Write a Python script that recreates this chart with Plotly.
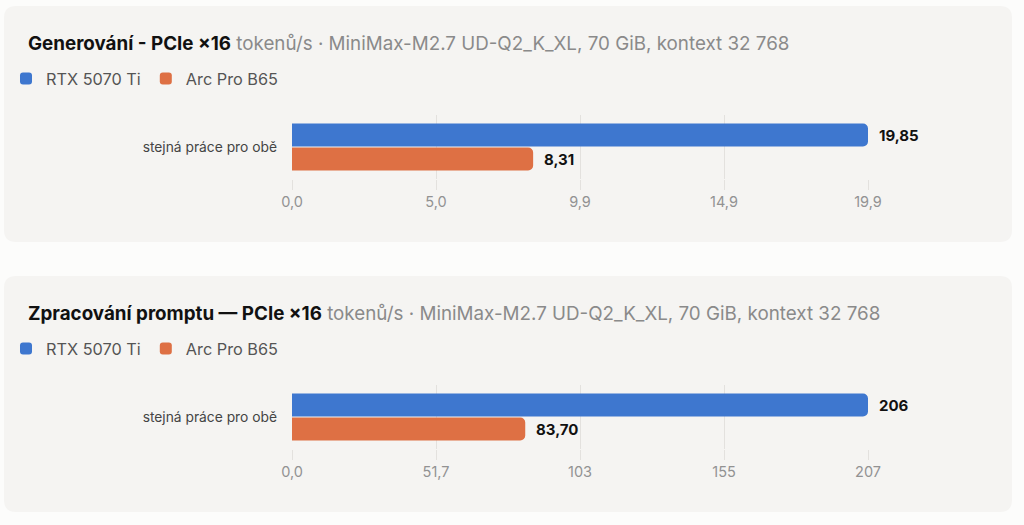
import plotly.graph_objects as go

W, H = 1024, 525

category = ["stejná práce pro obě"]
series = ["RTX 5070 Ti", "Arc Pro B65"]
colors = ["#3e77cf", "#de7044"]

gen_values = [19.85, 8.31]
gen_labels = ["19,85", "8,31"]
gen_ticks = ["0,0", "5,0", "9,9", "14,9", "19,9"]

pp_values = [206.7, 83.70]
pp_labels = ["206", "83,70"]
pp_ticks = ["0,0", "51,7", "103", "155", "207"]

panels = [
    ("Generování - PCIe ×16", gen_values, gen_labels, gen_ticks),
    ("Zpracování promptu — PCIe ×16", pp_values, pp_labels, pp_ticks),
]
subtitle = "tokenů/s · MiniMax-M2.7 UD-Q2_K_XL, 70 GiB, kontext 32 768"


def px(x):
    return x / W


def py(y):
    return 1 - y / H


def card(x0, y0, x1, y1, r=12):
    # rounded rectangle in paper coords
    rx, ry = r / W, r / H
    a, b, c, d = px(x0), py(y1), px(x1), py(y0)
    return (f"M{a+rx},{b} L{c-rx},{b} Q{c},{b} {c},{b+ry} L{c},{d-ry} Q{c},{d} {c-rx},{d} "
            f"L{a+rx},{d} Q{a},{d} {a},{d-ry} L{a},{b+ry} Q{a},{b} {a+rx},{b} Z")


fig = go.Figure()

# card y-extents, plot area y-extents, title y, legend y
cards = [(6, 242), (276, 512)]
plots = [(115, 179), (385, 449)]
title_y = [43, 313]
legend_y = [79, 349]

for i, (title, vals, labels, ticks) in enumerate(panels):
    n = "" if i == 0 else str(i + 1)
    for j, name in enumerate(series):
        fig.add_trace(go.Bar(
            y=category, x=[vals[j]], name=name, orientation="h",
            marker=dict(color=colors[j], cornerradius=5, line=dict(width=0)),
            xaxis="x" + n, yaxis="y" + n, legend="legend" + n,
            hoverinfo="skip",
        ))
        fig.add_annotation(
            x=vals[j], y=category[0], xref="x" + n, yref="y" + n,
            text=f"<b>{labels[j]}</b>", showarrow=False, xanchor="left",
            xshift=9, yshift=12 if j == 0 else -12,
            font=dict(size=15, color="#111", family="Inter"),
        )
    vmax = max(vals)
    fig.update_layout({
        "xaxis" + n: dict(
            domain=[px(292), px(868)], range=[0, vmax], anchor="y" + n,
            tickvals=[vmax * k / 4 for k in range(5)], ticktext=ticks,
            showgrid=True, gridcolor="#e3e1de", gridwidth=1, zeroline=False,
            ticks="outside", ticklen=10, tickcolor="#e3e1de",
            tickfont=dict(size=14.5, color="#929292", family="Inter"),
            showline=False, fixedrange=True, automargin=False,
        ),
        "yaxis" + n: dict(
            domain=[py(plots[i][1]), py(plots[i][0])], anchor="x" + n,
            range=[0.5, -0.5], showgrid=False, zeroline=False, ticks="",
            ticklabelstandoff=14,
            tickfont=dict(size=13.8, color="#444", family="Inter"),
            fixedrange=True, automargin=False,
        ),
        "legend" + n: dict(
            x=px(6), y=py(legend_y[i]), xanchor="left", yanchor="middle",
            orientation="h", bgcolor="rgba(0,0,0,0)", itemwidth=30,
            font=dict(size=16.3, color="#555", family="Inter"),
            itemclick=False, itemdoubleclick=False,
        ),
    })
    fig.add_annotation(
        x=px(26), y=py(title_y[i]), xref="paper", yref="paper",
        xanchor="left", yanchor="middle", showarrow=False,
        text=f"<b>{title}</b> <span style='color:#8a8a8a'>{subtitle}</span>",
        font=dict(size=18.8, color="#111", family="Inter"),
    )
    fig.add_shape(type="path", path=card(4, cards[i][0], 1012, cards[i][1]),
                  xref="paper", yref="paper", fillcolor="#f5f4f2",
                  line=dict(width=0), layer="below")

fig.update_layout(
    width=W, height=H, margin=dict(l=0, r=0, t=0, b=0),
    paper_bgcolor="#fcfcfb", plot_bgcolor="rgba(0,0,0,0)",
    barmode="group", bargap=0.25, bargroupgap=0.05,
    showlegend=True,
)

fig.write_html(
    "out.html",
    config={"displayModeBar": False},
    post_script="document.body.style.margin='0';document.body.style.overflow='hidden';",
)
